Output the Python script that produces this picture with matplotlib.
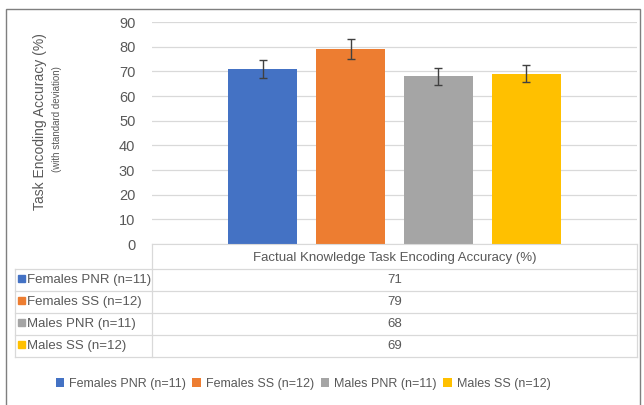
import matplotlib.pyplot as plt
from matplotlib.patches import Rectangle
from matplotlib.lines import Line2D

plt.rcParams['font.family'] = ['Liberation Sans', 'DejaVu Sans']

groups = ['Females PNR (n=11)', 'Females SS (n=12)', 'Males PNR (n=11)', 'Males SS (n=12)']
accuracy = [71, 79, 68, 69]
sd = [3.7, 4.0, 3.5, 3.5]
colors = ['#4472C4', '#ED7D31', '#A5A5A5', '#FFC000']
category = 'Factual Knowledge Task Encoding Accuracy (%)'
yticks = [0, 10, 20, 30, 40, 50, 60, 70, 80, 90]

W, H = 644, 405
fig = plt.figure(figsize=(W / 100, H / 100), dpi=100)
txt = '#595959'
grid = '#D9D9D9'


def fx(px):
    return px / W


def fy(py):
    return 1 - py / H


# plot area in pixels
left, right, top, bottom = 152, 637, 22, 244
ax = fig.add_axes([fx(left), fy(bottom), fx(right - left), (bottom - top) / H])

x = list(range(len(groups)))
bars = ax.bar(x, accuracy, width=0.78, color=colors, zorder=2)
ax.errorbar(x, accuracy, yerr=sd, fmt='none', ecolor='#404040', elinewidth=1,
            capsize=3, capthick=1, zorder=3)

ax.set_ylim(0, 90)
ax.set_xlim(1.5 - 2.756, 1.5 + 2.756)
ax.set_yticks(yticks)
ax.set_xticks([])
ax.yaxis.grid(True, color=grid, lw=0.9, zorder=0)
ax.tick_params(axis='y', length=0, labelsize=10.5, colors=txt, pad=12)
for s in ['top', 'right', 'left']:
    ax.spines[s].set_visible(False)
ax.spines['bottom'].set_color(grid)

fig.text(fx(40), fy(122), 'Task Encoding Accuracy (%)', rotation=90, ha='center',
         va='center', fontsize=10, color=txt)
fig.text(fx(57), fy(119), '(with standard deviation)', rotation=90, ha='center',
         va='center', fontsize=7, color=txt)

# data table under the chart
row_h = 22
header_bottom = 269
tl = 15
lines = []
lines.append(Line2D([fx(left), fx(left)], [fy(bottom), fy(header_bottom + row_h * 4)]))
lines.append(Line2D([fx(right), fx(right)], [fy(bottom), fy(header_bottom + row_h * 4)]))
lines.append(Line2D([fx(tl), fx(tl)], [fy(header_bottom), fy(header_bottom + row_h * 4)]))
for i in range(5):
    yy = header_bottom + row_h * i
    lines.append(Line2D([fx(tl), fx(right)], [fy(yy), fy(yy)]))
for ln in lines:
    ln.set_color(grid)
    ln.set_linewidth(0.9)
    fig.add_artist(ln)

fig.text(fx((left + right) / 2), fy((bottom + header_bottom) / 2 + 1), category,
         ha='center', va='center', fontsize=9.5, color=txt)
for i, (g, v, c) in enumerate(zip(groups, accuracy, colors)):
    yc = header_bottom + row_h * i + row_h / 2
    fig.add_artist(Rectangle((fx(18), fy(yc + 2)), fx(7), 7 / H, color=c,
                             transform=fig.transFigure))
    fig.text(fx(27), fy(yc), g, ha='left', va='center', fontsize=9.5, color=txt)
    fig.text(fx((left + right) / 2), fy(yc), str(v), ha='center', va='center',
             fontsize=9.5, color=txt)

fig.legend(bars, groups, loc='center', bbox_to_anchor=(fx(303), fy(384)), ncol=4,
           frameon=False, fontsize=9, handlelength=0.7, handleheight=0.7,
           handletextpad=0.4, columnspacing=0.5, labelcolor=txt)

# outer chart border
fig.add_artist(Rectangle((fx(6), -0.02), fx(634), fy(9) + 0.02, fill=False,
                         edgecolor='#7F7F7F', lw=1, transform=fig.transFigure))

fig.savefig('out.png', dpi=100)
